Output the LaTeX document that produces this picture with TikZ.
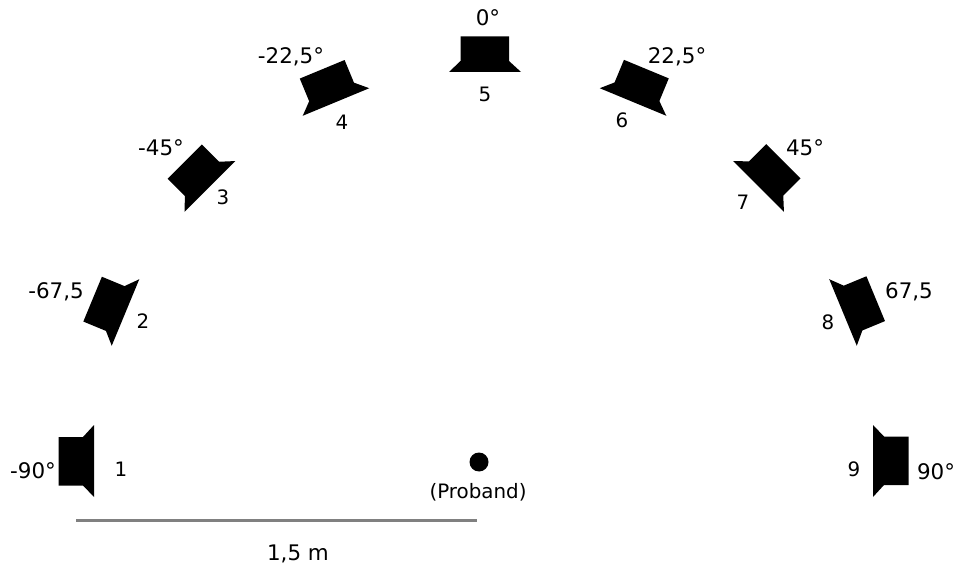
\documentclass[tikz,border=0pt]{standalone}
\usepackage{fontspec}
\setmainfont{DejaVu Sans}
\definecolor{scaleGray}{RGB}{128, 128, 128}

\begin{document}
\begin{tikzpicture}[
          x=0.02cm, y=0.02cm,
          speaker/.pic={\fill (-36,0) -- (-24.5,11) -- (-24.5,35.5) -- (24,35.5) -- (24,11) -- (36,0) -- cycle;},
          angle/.style={inner sep=0pt, font=\fontsize{12.2}{14}\selectfont},
          num/.style={inner sep=0pt, font=\fontsize{11.3}{13}\selectfont}
        ]
          \useasboundingbox (0,0) rectangle (956,568);
          % speakers, front edge at the given point
          \foreach \n/\x/\y/\a in {1/94/107/90, 2/125.5/255.5/67.5, 3/210/381.5/45, 4/336/466/22.5, 5/485/496/0,
                                   6/633/466/-22.5, 7/758.5/381.5/-45, 8/843/255.5/-67.5, 9/873/107/-90}
            \pic[rotate=\a] (spk\n) at (\x,\y) {speaker};
          % angles
          \node[angle] (a1) at (33,97) {-90°};
          \node[angle] (a2) at (56,276) {-67,5};
          \node[angle] (a3) at (161,420) {-45°};
          \node[angle] (a4) at (291,511) {-22,5°};
          \node[angle] (a5) at (488,550) {0°};
          \node[angle] (a6) at (677,511) {22,5°};
          \node[angle] (a7) at (805,420) {45°};
          \node[angle] (a8) at (909,276) {67,5};
          \node[angle] (a9) at (936,96) {90°};
          % numbers
          \node[num] (n1) at (121,99) {1};
          \node[num] (n2) at (143,247) {2};
          \node[num] (n3) at (223,371) {3};
          \node[num] (n4) at (342,446) {4};
          \node[num] (n5) at (485,474) {5};
          \node[num] (n6) at (622,448) {6};
          \node[num] (n7) at (743,366) {7};
          \node[num] (n8) at (828,246) {8};
          \node[num] (n9) at (854,99) {9};
          % listener and distance
          \node[circle, fill=black, minimum size=19*0.02cm, inner sep=0pt] (head) at (479,106) {};
          \node[num] (proband) at (478,76) {(Proband)};
          \coordinate (scaleL) at (76,47.5);
          \coordinate (scaleR) at (477,47.5);
          \draw[scaleGray, line width=1.2pt] (scaleL) -- (scaleR);
          \node[angle] (dist) at (298,14) {1,5 m};
        \end{tikzpicture}
\end{document}
